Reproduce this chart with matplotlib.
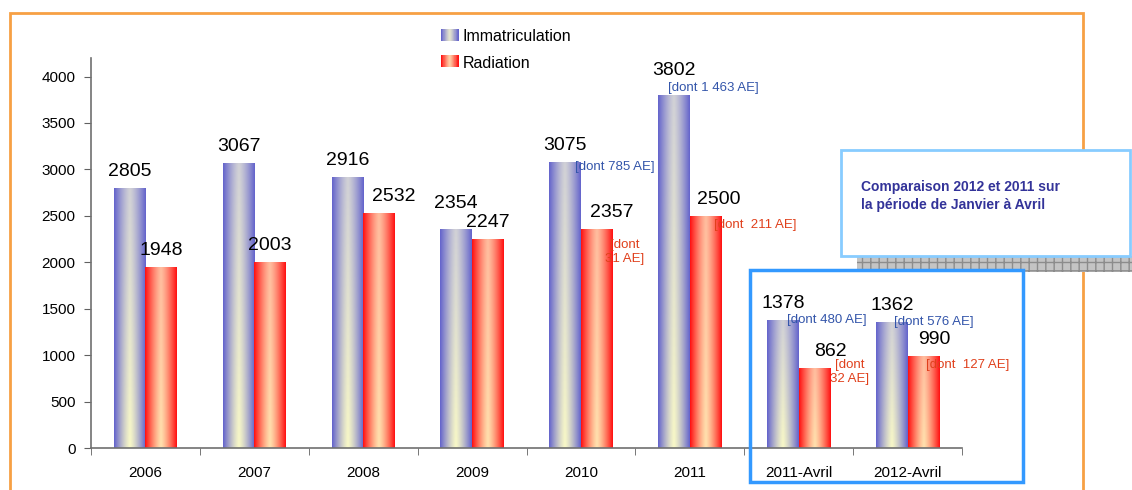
import numpy as np
import matplotlib
matplotlib.use("Agg")
import matplotlib.pyplot as plt
from matplotlib.patches import Rectangle
from matplotlib.legend_handler import HandlerBase

#
# Data
#

categories = ["2006", "2007", "2008", "2009", "2010", "2011", "2011-Avril", "2012-Avril"]
immatriculation = [2805, 3067, 2916, 2354, 3075, 3802, 1378, 1362]
radiation = [1948, 2003, 2532, 2247, 2357, 2500, 862, 990]
immat_notes = {4: "[dont 785 AE]", 5: "[dont 1 463 AE]", 6: "[dont 480 AE]", 7: "[dont 576 AE]"}
radiat_notes = {4: "[dont\n31 AE]", 5: "[dont  211 AE]", 6: "[dont\n32 AE]", 7: "[dont  127 AE]"}
yticks = [0, 500, 1000, 1500, 2000, 2500, 3000, 3500, 4000]

#
# Styles / layout
#

plt.rcParams["font.family"] = ["Liberation Sans", "DejaVu Sans"]
W, H = 1132, 490
blue_edge, blue_top, blue_bot = (0.40, 0.40, 0.80), (0.82, 0.82, 0.84), (0.97, 0.97, 0.78)
red_edge, red_top, red_bot = (1.0, 0.08, 0.08), (1.0, 0.74, 0.62), (1.0, 0.88, 0.68)
note_blue = "#3355aa"
note_red = "#e0401c"
# value label shifts in pixels (labels nudged like in the original)
immat_lbl_dy = [0, 0, 0, 9, 0, 8, 0, 0]
radiat_lbl_dx = [0, 0, 15, 0, 15, 13, 16, 11]
# (dx, dy, ha) in pixels from bar's right edge / top
immat_off = {4: (-6, -5, "left"), 5: (-22, 7, "left"), 6: (-12, 0, "left"), 7: (-14, 0, "left")}
radiat_off = {4: (12, -23, "center"), 5: (-7, -9, "left"), 6: (19, -4, "center"), 7: (-13, -9, "left")}


def gradient(edge, top, bot, n=32, m=64):
    xs = np.linspace(-1, 1, n)
    w = np.abs(xs) ** 1.3
    v = np.linspace(0, 1, m)[:, None, None]
    center = np.array(top) * (1 - v) + np.array(bot) * v
    return center + (np.array(edge) - center) * w[None, :, None]


def px(x, y):
    return x / W, 1 - y / H


fig = plt.figure(figsize=(W / 100, H / 100), dpi=100, facecolor="white")
ax = fig.add_axes([91 / W, 1 - 448 / H, (962 - 91) / W, (448 - 58) / H])

x = np.arange(len(categories))
bw = 0.29
bars_i = ax.bar(x - bw / 2, immatriculation, bw, color="none", edgecolor="none")
bars_r = ax.bar(x + bw / 2, radiation, bw, color="none", edgecolor="none")

grad_b = gradient(blue_edge, blue_top, blue_bot)
grad_r = gradient(red_edge, red_top, red_bot)
for bars, g in [(bars_i, grad_b), (bars_r, grad_r)]:
    for b in bars:
        l, h, w = b.get_x(), b.get_height(), b.get_width()
        im = ax.imshow(g, extent=[l, l + w, 0, h], aspect="auto", zorder=2, interpolation="bilinear")
        im.set_clip_path(b)

# value labels
for k, b in enumerate(bars_i):
    ax.annotate(str(int(b.get_height())), (b.get_x() + b.get_width() / 2, b.get_height()),
                xytext=(0, 8 + immat_lbl_dy[k]), textcoords="offset pixels", ha="center", va="bottom",
                fontsize=14, color="black", zorder=4)
for k, b in enumerate(bars_r):
    ax.annotate(str(int(b.get_height())), (b.get_x() + b.get_width() / 2, b.get_height()),
                xytext=(radiat_lbl_dx[k], 8), textcoords="offset pixels", ha="center", va="bottom",
                fontsize=14, color="black", zorder=4)

# AE notes
for notes, offs, bars, col in [(immat_notes, immat_off, bars_i, note_blue), (radiat_notes, radiat_off, bars_r, note_red)]:
    for i, txt in notes.items():
        b = bars[i]
        dx, dy, ha = offs[i]
        ax.annotate(txt, (b.get_x() + b.get_width(), b.get_height()), xytext=(dx, dy),
                    textcoords="offset pixels", ha=ha, va="center", multialignment="center",
                    fontsize=9.5, color=col, zorder=5, linespacing=1.2)

ax.set_xlim(-0.5, len(categories) - 0.5)
ax.set_ylim(0, 4200)
ax.set_yticks(yticks)
ax.set_xticks(x)
ax.set_xticklabels(categories)
ax.set_xticks(np.arange(-0.5, len(categories)), minor=True)
ax.tick_params(axis="x", which="major", length=0, pad=13, labelsize=11)
ax.tick_params(axis="x", which="minor", length=5, color="#606060", direction="out")
ax.tick_params(axis="y", length=5, color="#606060", labelsize=11, pad=6)
for s in ["top", "right"]:
    ax.spines[s].set_visible(False)
for s in ["left", "bottom"]:
    ax.spines[s].set_color("#707070")
    ax.spines[s].set_linewidth(1.2)


# legend with gradient swatches
class HandlerGradient(HandlerBase):
    def __init__(self, g):
        super().__init__()
        self.g = g

    def create_artists(self, legend, orig, xd, yd, width, height, fontsize, trans):
        n = self.g.shape[1]
        row = self.g[self.g.shape[0] // 2]
        arts = []
        for k in range(n):
            arts.append(Rectangle((xd + width * k / n, yd), width / n + 0.3, height,
                                  facecolor=row[k], edgecolor="none", transform=trans))
        return arts


h1 = Rectangle((0, 0), 1, 1)
h2 = Rectangle((0, 0), 1, 1)
fig.legend([h1, h2], ["Immatriculation", "Radiation"], loc="upper left",
           bbox_to_anchor=px(427, 15), frameon=False, fontsize=11.5,
           handler_map={h1: HandlerGradient(grad_b), h2: HandlerGradient(grad_r)},
           handlelength=1.05, handleheight=0.8, handletextpad=0.3, labelspacing=0.7)

# decorations in figure pixel coords
def fig_rect(x0, y0, x1, y1, **kw):
    fx, fy = px(x0, y1)
    r = Rectangle((fx, fy), (x1 - x0) / W, (y1 - y0) / H, transform=fig.transFigure, **kw)
    fig.add_artist(r)
    return r


fig_rect(10, 13, 1083, 520, facecolor="none", edgecolor="#f7a044", lw=2, zorder=1)
fig_rect(857, 256, 1140, 272, facecolor="#c4c4c4", edgecolor="#8c8c8c", hatch="++", lw=0, zorder=6)
fig_rect(841, 150, 1130, 256, facecolor="white", edgecolor="#88ccff", lw=2, zorder=7)
fig_rect(750, 270, 1023, 482, facecolor="none", edgecolor="#3399ff", lw=2.5, zorder=7)
fig.text(*px(861, 196), "Comparaison 2012 et 2011 sur\nla période de Janvier à Avril",
         fontsize=10, fontweight="bold", color="#333399", ha="left", va="center",
         linespacing=1.35, zorder=8)

plt.savefig("out.png", dpi=100)
